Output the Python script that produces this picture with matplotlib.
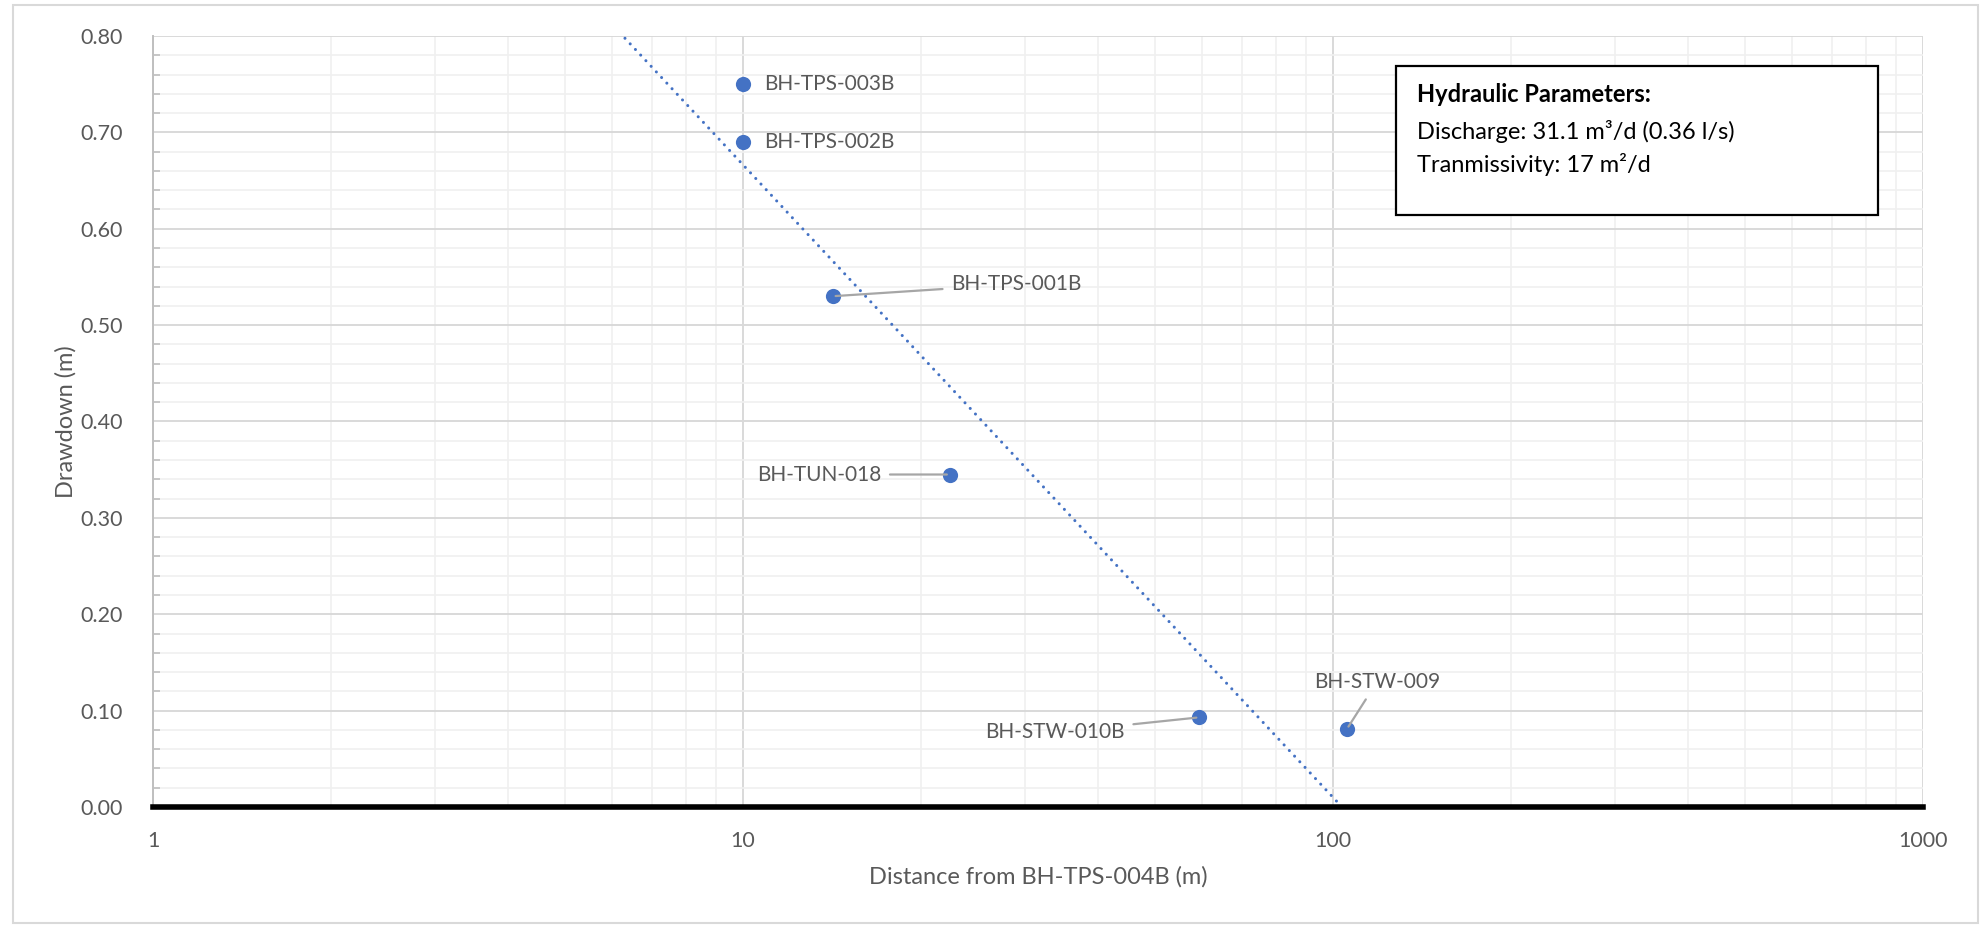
import numpy as np
import matplotlib
matplotlib.use("Agg")
import matplotlib.pyplot as plt
from matplotlib.patches import Rectangle
from matplotlib.ticker import LogLocator, MultipleLocator, FixedLocator, NullFormatter

plt.rcParams['font.family'] = ['Lato', 'DejaVu Sans']

# === Data ===
wells = ['BH-TPS-003B', 'BH-TPS-002B', 'BH-TPS-001B', 'BH-TUN-018', 'BH-STW-010B', 'BH-STW-009']
distance = [10.0, 10.0, 14.2, 22.4, 59.3, 105.6]      # m from BH-TPS-004B
drawdown = [0.75, 0.69, 0.53, 0.345, 0.093, 0.081]   # m

# label offsets (pixels) and alignment, plus whether a leader line is drawn
label_offsets = [(21, 0), (21, 0), (118, 12), (-68, 0), (-74, -15), (30, 47)]
label_ha = ['left', 'left', 'left', 'right', 'right', 'center']
leader = [False, False, True, True, True, True]

blue = '#4472C4'
grey_txt = '#595959'

fig = plt.figure(figsize=(19.84, 9.25), dpi=100)
ax = fig.add_axes([153 / 1984, 1 - 807 / 925, 1770 / 1984, 771 / 925])

# === Log trendline (least squares in log10 distance) ===
b, a = np.polyfit(np.log10(distance), drawdown, 1)
xs = np.logspace(0, 3, 400)
ax.plot(xs, a + b * np.log10(xs), color=blue, lw=2.2,
        linestyle=(0, (0.01, 2.5)), dash_capstyle='round', zorder=3)

# === Points ===
ax.scatter(distance, drawdown, s=120, color=blue, zorder=4, linewidths=0)

for w, x, y, off, ha, ld in zip(wells, distance, drawdown, label_offsets, label_ha, leader):
    props = dict(arrowstyle='-', color='#a6a6a6', lw=1.6, shrinkA=4, shrinkB=2) if ld else None
    ax.annotate(w, (x, y), xytext=off, textcoords='offset pixels',
                ha=ha, va='center', fontsize=15, color=grey_txt,
                arrowprops=props, zorder=5)

# === Axes ===
ax.set_xscale('log')
ax.set_xlim(1, 1000)
ax.set_ylim(0, 0.8)
ax.xaxis.set_major_locator(FixedLocator([1, 10, 100, 1000]))
ax.xaxis.set_major_formatter(matplotlib.ticker.FuncFormatter(lambda v, p: f'{v:g}'))
ax.xaxis.set_minor_locator(LogLocator(base=10, subs=np.arange(2, 10)))
ax.xaxis.set_minor_formatter(NullFormatter())
ax.yaxis.set_major_locator(MultipleLocator(0.1))
ax.yaxis.set_minor_locator(MultipleLocator(0.02))
ax.yaxis.set_major_formatter(matplotlib.ticker.FormatStrFormatter('%.2f'))

ax.grid(which='major', color='#d9d9d9', lw=1.4)
ax.grid(which='minor', color='#f0f0f0', lw=1.2)
ax.set_axisbelow(True)

for s in ['top', 'right']:
    ax.spines[s].set_visible(False)
ax.spines['left'].set_color('#bfbfbf')
ax.spines['left'].set_linewidth(1.4)
ax.spines['bottom'].set_color('black')
ax.spines['bottom'].set_linewidth(4)
ax.spines['bottom'].set_zorder(6)

ax.tick_params(axis='both', which='major', length=0, labelsize=15.5, labelcolor=grey_txt)
ax.tick_params(axis='x', which='major', pad=17)
ax.tick_params(axis='y', which='major', pad=22)
ax.tick_params(axis='y', which='minor', direction='in', length=5, color='#bfbfbf', width=1.2)
ax.tick_params(axis='x', which='minor', length=0)

ax.set_xlabel('Distance from BH-TPS-004B (m)', fontsize=17, color=grey_txt)
ax.set_ylabel('Drawdown (m)', fontsize=17, color=grey_txt)
ax.xaxis.set_label_coords(0.5, -0.076)
ax.yaxis.set_label_coords(-0.043, 0.5)

# === Hydraulic parameters box ===
ax.add_patch(Rectangle((0.702, 0.768), 0.2726, 0.193, transform=ax.transAxes,
                       facecolor='white', edgecolor='black', lw=1.6, zorder=7))
ax.text(0.714, 0.9235, 'Hydraulic Parameters:', transform=ax.transAxes,
        fontsize=17, fontweight='bold', va='center', ha='left', zorder=8)
ax.text(0.714, 0.8755, 'Discharge: 31.1 m³/d (0.36 l/s)', transform=ax.transAxes,
        fontsize=17, va='center', ha='left', zorder=8)
ax.text(0.714, 0.8327, 'Tranmissivity: 17 m²/d', transform=ax.transAxes,
        fontsize=17, va='center', ha='left', zorder=8)

# outer chart frame
fig.patches.append(Rectangle((13 / 1984, 2 / 925), 1965 / 1984, 918 / 925,
                             transform=fig.transFigure, fill=False,
                             edgecolor='#d9d9d9', lw=1.5))

fig.savefig('out.png', dpi=100)
plt.close(fig)
